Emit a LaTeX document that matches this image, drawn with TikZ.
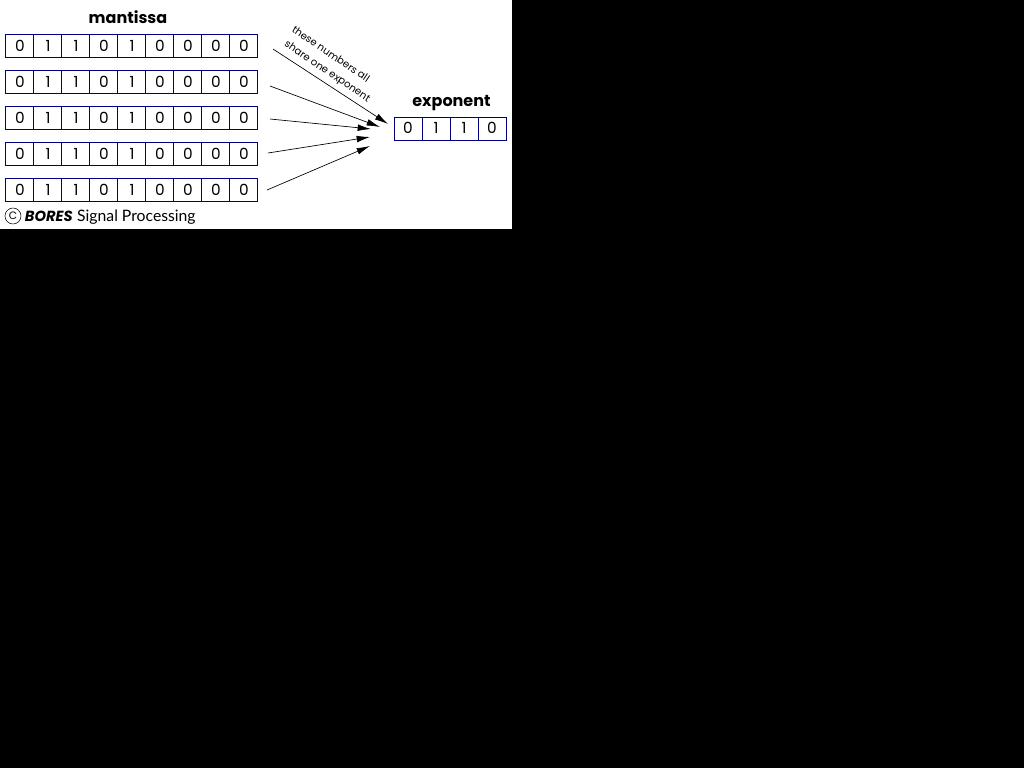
\documentclass[tikz,border=0pt]{standalone}
\usepackage{fontspec}
\usepackage{xcolor}
\setmainfont{Poppins}
\newfontfamily\sigfont{Lato}
\usetikzlibrary{arrows.meta, positioning}
\definecolor{cellblue}{RGB}{0,0,128}
\tikzset{
  bitcell/.style={draw=cellblue, line width=0.75pt, minimum width=21pt, minimum height=17.25pt, inner sep=0pt, text=black, font=\fontsize{11.5pt}{12pt}\selectfont},
  heading/.style={font=\fontsize{12pt}{14pt}\selectfont\bfseries, inner sep=0pt},
  slanted/.style={font=\fontsize{7.6pt}{8pt}\selectfont, rotate=-34, inner sep=0pt},
  fanarrow/.style={-{Latex[length=10pt,width=5pt]}, line width=0.5pt}
}
\begin{document}
\begin{tikzpicture}[x=0.75pt, y=-0.75pt]
            \useasboundingbox (0,0) rectangle (1024,768);
            \fill[black] (0,0) rectangle (1024,768);
            \fill[white] (0,0) rectangle (512,229);
            \node[heading] (mantissa) at (128,17) {mantissa};
            \node[heading] (exponent) at (451.5,103) {exponent};
            % five mantissa rows
            \foreach \r/\y in {1/46,2/82,3/118,4/154,5/190} {
                \foreach \c/\x/\b in {1/19/0,2/47/1,3/75/1,4/103/0,5/131/1,6/159/0,7/187/0,8/215/0,9/243/0} {
                    \node[bitcell] (m\r\c) at (\x,\y) {\kern1.5pt\raisebox{0.4pt}{\b}};
                }
            }
            % exponent bits
            \foreach \c/\x/\b in {1/408/0,2/436/1,3/464/1,4/492/0} {
                \node[bitcell] (e\c) at (\x,128.5) {\raisebox{0.7pt}{\b}};
            }
            \foreach \n/\x/\y/\u/\v in {1/273/49/388/124,2/270/86/380/127,3/270/119/371/129,4/268/153/370/137,5/267/190/370/146} {
                \coordinate (from\n) at (\x,\y);
                \coordinate (to\n) at (\u,\v);
                \draw[fanarrow] (from\n) -- (to\n);
            }
            \node[slanted] (note1) at (331,54) {these numbers all};
            \node[slanted] (note2) at (327,72) {share one exponent};
            % signature
            \node[circle, draw, line width=0.4pt, inner sep=0pt, minimum size=12pt, font=\fontsize{8pt}{8pt}\selectfont] (copy) at (13,216) {C};
            \node[inner sep=0pt, font=\fontsize{11pt}{12pt}\selectfont\bfseries\itshape, right=2.5pt of copy] (bores) {BORES};
            \node[inner sep=0pt, font=\sigfont\fontsize{11.8pt}{12pt}\selectfont, right=3pt of bores, yshift=-1pt] (signal) {Signal Processing};
        \end{tikzpicture}
\end{document}
